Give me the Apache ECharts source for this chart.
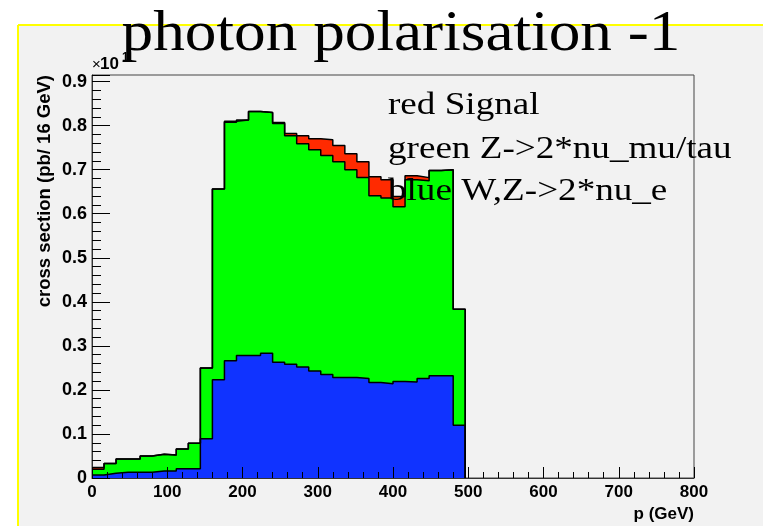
<!DOCTYPE html>
<html>
<head>
<meta charset="utf-8">
<script src="https://cdn.jsdelivr.net/npm/echarts@6/dist/echarts.min.js"></script>
<style>
  html, body { margin: 0; padding: 0; background: #fff; }
  #chart { width: 763px; height: 526px; }
</style>
</head>
<body>
<div id="chart"></div>
<script>
// 16 GeV bins, lower edges 0..480
var binWidth = 16;
var binLow = [0, 16, 32, 48, 64, 80, 96, 112, 128, 144, 160, 176, 192, 208, 224, 240,
  256, 272, 288, 304, 320, 336, 352, 368, 384, 400, 416, 432, 448, 464, 480];

// blue W,Z->2*nu_e
var blueVals = [0.007, 0.011, 0.013, 0.013, 0.013, 0.016, 0.016, 0.021, 0.021, 0.089, 0.223,
  0.266, 0.278, 0.278, 0.283, 0.263, 0.258, 0.252, 0.243, 0.235, 0.228, 0.228, 0.226, 0.217,
  0.214, 0.219, 0.218, 0.226, 0.232, 0.232, 0.120];
// green Z->2*nu_mu/tau
var greenVals = [0.013, 0.022, 0.030, 0.030, 0.037, 0.038, 0.036, 0.045, 0.058, 0.161, 0.433,
  0.542, 0.535, 0.554, 0.547, 0.542, 0.519, 0.507, 0.502, 0.497, 0.490, 0.472, 0.456, 0.424,
  0.422, 0.397, 0.459, 0.449, 0.466, 0.468, 0.263];
// red Signal
var redVals = [0.004, 0, 0, 0, 0, 0, 0, 0, 0, 0, 0,
  0.002, 0, 0, 0, 0.002, 0.005, 0.018, 0.025, 0.036, 0.037, 0.036, 0.036, 0.043,
  0.041, 0.023, 0.009, 0.007, 0, 0, 0];

var xTicks = [0, 100, 200, 300, 400, 500, 600, 700, 800];

// stacked like THStack: draw total first, then lower layers on top
function stepData(layers) {
  var pts = [];
  var last = 0;
  for (var i = 0; i < binLow.length; i++) {
    var v = 0;
    layers.forEach(function (arr) { v += arr[i]; });
    pts.push([binLow[i], v]);
    last = v;
  }
  var end = binLow[binLow.length - 1] + binWidth;
  pts.push([end, last]);
  pts.push([end, 0]);
  return pts;
}

function histSeries(name, color, data) {
  return {
    name: name,
    type: 'line',
    step: 'end',
    symbol: 'none',
    silent: true,
    data: data,
    lineStyle: { color: '#000', width: 1.5 },
    areaStyle: { color: color, opacity: 1 }
  };
}

var chart = echarts.init(document.getElementById('chart'));
var serif = '"Liberation Serif", "DejaVu Serif", serif';
var sans = '"Liberation Sans", Arial, sans-serif';

var option = {
  backgroundColor: '#fff',
  animation: false,
  graphic: [
    { type: 'rect', z: -10, shape: { x: 18, y: 25, width: 745, height: 501 }, style: { fill: '#f2f2f2' } },
    { type: 'line', z: -9, shape: { x1: 18, y1: 25, x2: 763, y2: 25 }, style: { stroke: '#ffff00', lineWidth: 2 } },
    { type: 'line', z: -9, shape: { x1: 18, y1: 25, x2: 18, y2: 526 }, style: { stroke: '#ffff00', lineWidth: 2 } },
    {
      type: 'text', z: 100, x: 401, y: 35, scaleX: 1.13,
      style: { text: 'photon polarisation -1', font: '56px ' + serif, fill: '#000', align: 'center', verticalAlign: 'middle' }
    },
    {
      type: 'text', z: 100, x: 388, y: 106, scaleX: 1.16,
      style: { text: 'red Signal', font: '32px ' + serif, fill: '#000', align: 'left', verticalAlign: 'middle' }
    },
    {
      type: 'text', z: 100, x: 388, y: 150, scaleX: 1.16,
      style: { text: 'green Z->2*nu_mu/tau', font: '32px ' + serif, fill: '#000', align: 'left', verticalAlign: 'middle' }
    },
    {
      type: 'text', z: 100, x: 388, y: 192, scaleX: 1.16,
      style: { text: 'blue W,Z->2*nu_e', font: '32px ' + serif, fill: '#000', align: 'left', verticalAlign: 'middle' }
    },
    {
      type: 'text', z: 50, x: 45, y: 75, rotation: Math.PI / 2,
      style: { text: 'cross section (pb/ 16 GeV)', font: 'bold 18.5px ' + sans, fill: '#000', align: 'right', verticalAlign: 'middle' }
    },
    {
      type: 'text', z: 50, x: 694, y: 514,
      style: { text: 'p (GeV)', font: 'bold 17px ' + sans, fill: '#000', align: 'right', verticalAlign: 'middle' }
    },
    {
      type: 'text', z: 50, x: 92, y: 65,
      style: { text: '×', font: '15px ' + sans, fill: '#000', align: 'left', verticalAlign: 'middle' }
    },
    {
      type: 'text', z: 50, x: 100, y: 64,
      style: { text: '10', font: 'bold 17px ' + sans, fill: '#000', align: 'left', verticalAlign: 'middle' }
    },
    {
      type: 'text', z: 50, x: 122, y: 58,
      style: { text: '1', font: 'bold 12px ' + sans, fill: '#000', align: 'left', verticalAlign: 'middle' }
    }
  ],
  grid: {
    left: 92, right: 69, top: 75, bottom: 48,
    show: true, borderColor: '#444', borderWidth: 1, backgroundColor: '#f2f2f2'
  },
  xAxis: {
    type: 'value', min: 0, max: 800, interval: 100, z: 10,
    axisLine: { onZero: false, lineStyle: { color: '#333', width: 1 } },
    axisTick: { inside: true, length: 11, lineStyle: { color: '#000' } },
    minorTick: { show: true, splitNumber: 5, length: 6, lineStyle: { color: '#000' } },
    splitLine: { show: false },
    axisLabel: {
      margin: 6, color: '#000', fontSize: 17, fontWeight: 'bold', fontFamily: sans,
      formatter: function (v) { return xTicks.indexOf(v) >= 0 ? String(v) : ''; }
    }
  },
  yAxis: {
    type: 'value', min: 0, max: 0.915, interval: 0.1, z: 10,
    axisLine: { show: true, lineStyle: { color: '#333', width: 1 } },
    axisTick: { inside: true, length: 18, lineStyle: { color: '#000' } },
    minorTick: { show: true, splitNumber: 5, length: 9, lineStyle: { color: '#000' } },
    splitLine: { show: false },
    axisLabel: {
      margin: 5, color: '#000', fontSize: 18, fontWeight: 'bold', fontFamily: sans,
      showMaxLabel: false,
      formatter: function (v) { return v === 0 ? '0' : v.toFixed(1); }
    }
  },
  series: [
    histSeries('red Signal', '#ff2a00', stepData([blueVals, greenVals, redVals])),
    histSeries('green Z->2*nu_mu/tau', '#00ff00', stepData([blueVals, greenVals])),
    histSeries('blue W,Z->2*nu_e', '#1033ff', stepData([blueVals]))
  ]
};
chart.setOption(option);
</script>
</body>
</html>
